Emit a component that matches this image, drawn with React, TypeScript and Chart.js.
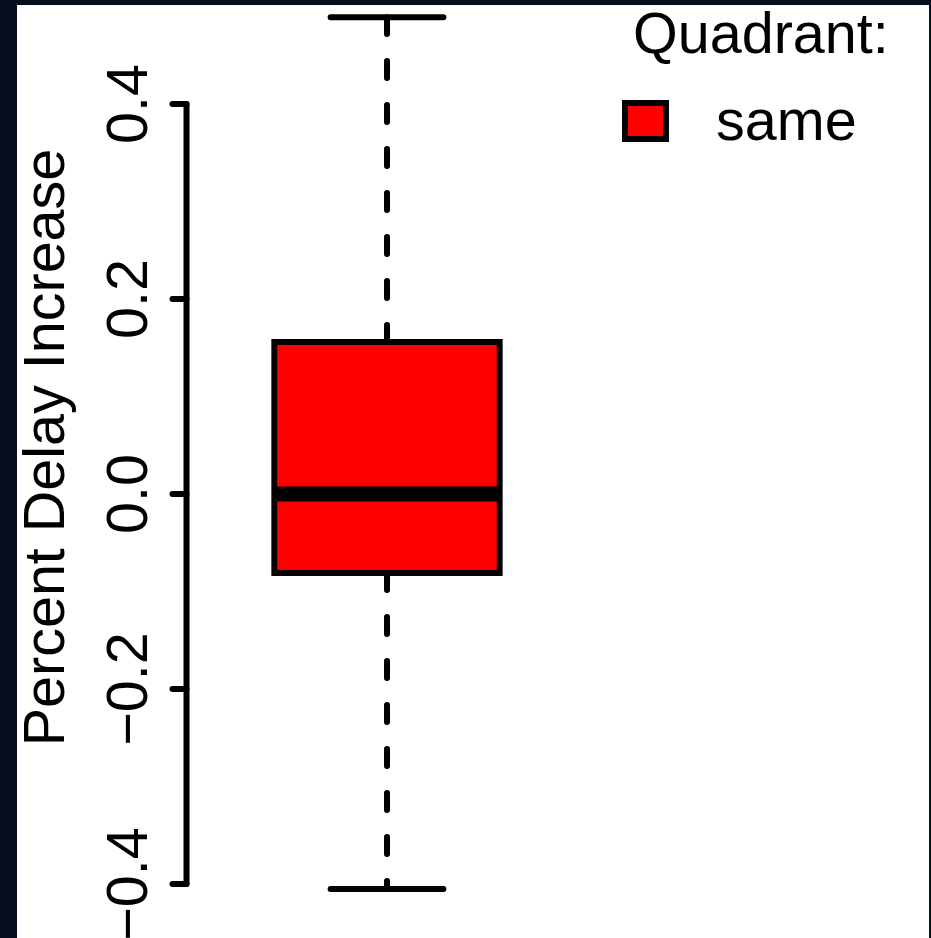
import React, { useEffect, useRef } from 'react';
import { Chart, registerables } from 'chart.js';

Chart.register(...registerables);

// ---- data ----
const categories = ['same'];
const lowerWhisker = [-0.405];
const firstQuartile = [-0.081];
const medians = [0.0];
const thirdQuartile = [0.156];
const upperWhisker = [0.489];
const yTickValues = [-0.4, -0.2, 0.0, 0.2, 0.4];
const yTickLabels = ['\u22120.4', '\u22120.2', '0.0', '0.2', '0.4'];
const yAxisTitle = 'Percent Delay Increase';
const legendTitle = 'Quadrant:';
const boxColors = ['#ff0000'];

const FONT = '"Liberation Sans", Arial, Helvetica, sans-serif';
const FONT_SIZE = 57.5;

const framePlugin = {
  id: 'frame',
  beforeDraw(chart: any) {
    const ctx = chart.ctx;
    ctx.save();
    ctx.fillStyle = '#070e1e';
    ctx.fillRect(0, 0, chart.width, chart.height);
    ctx.fillStyle = '#ffffff';
    ctx.fillRect(17, 5, 912, chart.height - 5);
    ctx.restore();
  },
};

const boxplotPlugin = {
  id: 'boxplotExtras',
  beforeDatasetsDraw(chart: any) {
    const ctx = chart.ctx;
    const y = chart.scales.y;
    const meta = chart.getDatasetMeta(0);
    ctx.save();
    ctx.strokeStyle = '#000000';
    ctx.lineWidth = 6;
    ctx.lineCap = 'round';
    meta.data.forEach((bar: any, i: number) => {
      const x = bar.x;
      const half = bar.width / 2;
      const staple = half / 2;
      const pQ3 = y.getPixelForValue(thirdQuartile[i]);
      const pQ1 = y.getPixelForValue(firstQuartile[i]);
      const pHi = y.getPixelForValue(upperWhisker[i]);
      const pLo = y.getPixelForValue(lowerWhisker[i]);
      // dashed whiskers
      ctx.setLineDash([17, 27]);
      ctx.beginPath();
      ctx.moveTo(x, pQ3);
      ctx.lineTo(x, pHi);
      ctx.stroke();
      ctx.beginPath();
      ctx.moveTo(x, pQ1);
      ctx.lineTo(x, pLo);
      ctx.stroke();
      // staples
      ctx.setLineDash([]);
      ctx.beginPath();
      ctx.moveTo(x - staple, pHi);
      ctx.lineTo(x + staple, pHi);
      ctx.moveTo(x - staple, pLo);
      ctx.lineTo(x + staple, pLo);
      ctx.stroke();
    });
    ctx.restore();
  },
  afterDatasetsDraw(chart: any) {
    const ctx = chart.ctx;
    const y = chart.scales.y;
    const meta = chart.getDatasetMeta(0);
    ctx.save();
    ctx.strokeStyle = '#000000';
    ctx.lineWidth = 15;
    ctx.lineCap = 'butt';
    meta.data.forEach((bar: any, i: number) => {
      const half = bar.width / 2;
      const pm = y.getPixelForValue(medians[i]);
      ctx.beginPath();
      ctx.moveTo(bar.x - half, pm);
      ctx.lineTo(bar.x + half, pm);
      ctx.stroke();
    });
    ctx.restore();
  },
};

const axisPlugin = {
  id: 'rAxis',
  afterDraw(chart: any) {
    const ctx = chart.ctx;
    const y = chart.scales.y;
    const ax = chart.chartArea.left - 0.5;
    ctx.save();
    ctx.strokeStyle = '#000000';
    ctx.fillStyle = '#000000';
    ctx.lineWidth = 6;
    ctx.lineCap = 'round';
    const pMin = y.getPixelForValue(yTickValues[0]);
    const pMax = y.getPixelForValue(yTickValues[yTickValues.length - 1]);
    ctx.beginPath();
    ctx.moveTo(ax, pMin);
    ctx.lineTo(ax, pMax);
    ctx.stroke();
    ctx.font = `${FONT_SIZE}px ${FONT}`;
    ctx.textAlign = 'center';
    ctx.textBaseline = 'alphabetic';
    yTickValues.forEach((v, i) => {
      const py = y.getPixelForValue(v);
      ctx.beginPath();
      ctx.moveTo(ax, py);
      ctx.lineTo(ax - 14, py);
      ctx.stroke();
      ctx.save();
      ctx.translate(147, py);
      ctx.rotate(-Math.PI / 2);
      ctx.fillText(yTickLabels[i], 0, 0);
      ctx.restore();
    });
    // axis title
    ctx.save();
    ctx.translate(64, 447.5);
    ctx.rotate(-Math.PI / 2);
    ctx.fillText(yAxisTitle, 0, 0);
    ctx.restore();
    ctx.restore();
  },
};

const legendPlugin = {
  id: 'rLegend',
  afterDraw(chart: any) {
    const ctx = chart.ctx;
    ctx.save();
    ctx.font = `${FONT_SIZE}px ${FONT}`;
    ctx.fillStyle = '#000000';
    ctx.textAlign = 'left';
    ctx.textBaseline = 'alphabetic';
    ctx.fillText(legendTitle, 633, 53);
    categories.forEach((c, i) => {
      const top = 103 + i * 60;
      ctx.fillStyle = boxColors[i];
      ctx.fillRect(625, top, 41, 36);
      ctx.strokeStyle = '#000000';
      ctx.lineWidth = 6;
      ctx.strokeRect(625, top, 41, 36);
      ctx.fillStyle = '#000000';
      ctx.fillText(c, 716, top + 37);
    });
    ctx.restore();
  },
};

export default function App() {
  const canvasRef = useRef<HTMLCanvasElement | null>(null);

  useEffect(() => {
    if (!canvasRef.current) return;
    const chart = new Chart(canvasRef.current, {
      type: 'bar',
      data: {
        labels: categories,
        datasets: [
          {
            label: categories[0],
            data: categories.map((_, i) => [firstQuartile[i], thirdQuartile[i]]) as any,
            backgroundColor: boxColors,
            borderColor: '#000000',
            borderWidth: 6,
            borderSkipped: false,
            inflateAmount: 3,
            barPercentage: 0.564,
            categoryPercentage: 1,
          } as any,
        ],
      },
      options: {
        responsive: false,
        animation: false,
        devicePixelRatio: 1,
        layout: { padding: { left: 187, right: 344, top: 6.5, bottom: 5.25 } },
        scales: {
          x: { type: 'category', display: false },
          y: { type: 'linear', display: false, min: -0.45, max: 0.5 },
        },
        plugins: {
          legend: { display: false },
          tooltip: { enabled: false },
        },
      },
      plugins: [framePlugin, boxplotPlugin, axisPlugin, legendPlugin],
    });
    return () => chart.destroy();
  }, []);

  return (
    <div style={{ position: 'fixed', left: 0, top: 0, width: 931, height: 938, overflow: 'hidden' }}>
      <canvas ref={canvasRef} width={931} height={938} style={{ display: 'block', width: 931, height: 938 }} />
    </div>
  );
}
